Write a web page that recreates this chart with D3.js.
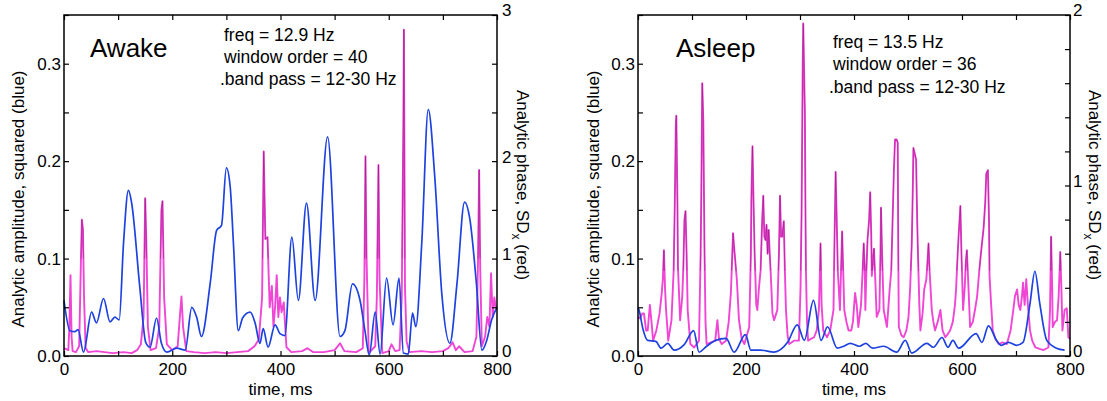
<!DOCTYPE html>
<html>
<head>
<meta charset="utf-8">
<script src="https://cdnjs.cloudflare.com/ajax/libs/d3/7.8.5/d3.min.js"></script>
<style>
body { margin: 0; background: #fff; }
svg text { font-family: "Liberation Sans", Arial, Helvetica, sans-serif; fill: #000; }
</style>
</head>
<body>
<div id="chart"></div>
<script>
var width = 1107,
    height = 401;

// axis ticks and labels
var timeTicks = [0, 100, 200, 300, 400, 500, 600, 700, 800];
var timeLabels = ["0", "", "200", "", "400", "", "600", "", "800"];
var ampTicks = [0, 0.05, 0.1, 0.15, 0.2, 0.25, 0.3, 0.35];
var ampLabels = ["0.0", "", "0.1", "", "0.2", "", "0.3", ""];
var awakePhaseTicks = [0, 0.5, 1, 1.5, 2, 2.5, 3, 3.5];
var awakePhaseLabels = ["0", "", "1", "", "2", "", "", "3"];
var asleepPhaseTicks = [0, 0.2, 0.4, 0.6, 0.8, 1, 1.2, 1.4, 1.6, 1.8, 2];
var asleepPhaseLabels = ["0", "", "", "", "", "1", "", "", "", "", "2"];

// awake: analytic amplitude squared (blue), [ms, value]
var awakeAmp = [[0,0.057],[11,0.026],[20,0.025],[26,0.027],[36,0.004],[51,0.045],[60,0.034],[73,0.059],[85,0.035],[94,0.040],[102,0.037],[110,0.116],[119,0.170],[125,0.157],[140,0.071],[151,0.014],[159,0.009],[171,0.039],[180,0.013],[190,0.004],[208,0.008],[224,0.006],[236,0.050],[245,0.040],[254,0.020],[270,0.074],[282,0.129],[291,0.134],[300,0.193],[307,0.174],[313,0.116],[322,0.026],[330,0.039],[344,0.045],[353,0.034],[362,0.013],[368,0.028],[377,0.009],[390,0.032],[399,0.023],[408,0.021],[421,0.122],[433,0.057],[448,0.157],[464,0.057],[487,0.225],[510,0.020],[519,0.026],[533,0.074],[547,0.057],[556,0.026],[564,0.001],[575,0.045],[584,0.002],[596,0.080],[608,0.032],[619,0.080],[627,0.003],[636,0.002],[644,0.044],[650,0.030],[661,0.116],[673,0.253],[685,0.184],[698,0.064],[713,0.013],[726,0.074],[740,0.158],[750,0.140],[762,0.074],[772,0.006],[781,0.016],[790,0.037],[800,0.050]];

// awake: analytic phase SDx (red), [ms, value]
var awakePhase = [[0,0.08],[8,0.06],[10,0.3],[12,0.83],[14,0.2],[16,0.05],[22,0.04],[28,0.1],[31,0.9],[33,1.40],[35,1.3],[37,0.6],[40,0.08],[45,0.04],[60,0.05],[75,0.04],[90,0.03],[110,0.04],[125,0.03],[135,0.06],[142,0.12],[147,0.4],[150,1.62],[152,1.2],[155,0.3],[160,0.06],[170,0.08],[176,0.3],[180,1.5],[182,1.59],[185,0.6],[190,0.12],[200,0.06],[210,0.1],[214,0.4],[217,0.61],[220,0.3],[226,0.05],[240,0.04],[260,0.03],[280,0.04],[300,0.03],[320,0.04],[340,0.05],[352,0.1],[360,0.17],[366,0.6],[369,2.10],[372,1.2],[376,1.22],[380,0.5],[384,0.72],[387,0.3],[390,0.5],[393,0.83],[396,0.4],[399,0.6],[402,0.45],[406,0.55],[411,0.09],[420,0.04],[440,0.05],[450,0.08],[460,0.04],[480,0.04],[500,0.06],[510,0.13],[518,0.05],[540,0.04],[552,0.08],[555,0.8],[557,2.05],[559,1.0],[563,0.03],[575,0.1],[578,0.6],[581,1.96],[583,0.8],[588,0.03],[600,0.05],[605,0.12],[612,0.05],[620,0.06],[624,0.6],[627,2.4],[628,3.35],[630,0.7],[633,0.15],[638,0.04],[660,0.05],[680,0.04],[700,0.05],[710,0.08],[718,0.14],[724,0.06],[730,0.1],[740,0.04],[755,0.05],[762,0.2],[765,1.0],[767,1.91],[769,0.9],[772,0.1],[778,0.2],[782,0.4],[786,0.3],[789,0.85],[792,0.4],[795,0.6],[798,0.5],[800,0.5]];

// asleep: analytic amplitude squared (blue)
var asleepAmp = [[0,0.050],[2,0.047],[9,0.028],[18,0.016],[33,0.015],[43,0.008],[55,0.013],[67,0.006],[86,0.012],[103,0.026],[113,0.004],[127,0.010],[144,0.016],[163,0.018],[178,0.004],[199,0.022],[209,0.006],[227,0.006],[252,0.004],[277,0.014],[295,0.032],[308,0.016],[325,0.057],[339,0.016],[351,0.030],[369,0.008],[381,0.010],[393,0.013],[410,0.010],[422,0.013],[434,0.008],[455,0.010],[479,0.004],[495,0.016],[507,0.003],[535,0.013],[547,0.009],[563,0.019],[574,0.009],[583,0.016],[594,0.008],[626,0.023],[637,0.014],[649,0.031],[664,0.016],[673,0.011],[686,0.014],[701,0.011],[713,0.014],[726,0.054],[735,0.087],[744,0.054],[757,0.016],[775,0.008],[790,0.006]];

// asleep: analytic phase SDx (red)
var asleepPhase = [[0,0.23],[4,0.22],[8,0.25],[11,0.25],[15,0.15],[18,0.15],[22,0.3],[25,0.2],[28,0.09],[34,0.15],[40,0.25],[44,0.37],[46,0.45],[48,0.62],[50,0.4],[52,0.27],[56,0.09],[62,0.21],[66,0.5],[68,0.86],[70,1.35],[71,1.41],[73,0.9],[74,0.52],[78,0.21],[82,0.35],[84,0.52],[86,0.8],[88,0.85],[90,0.6],[92,0.27],[97,0.07],[104,0.05],[113,0.09],[116,0.6],[117,0.88],[119,1.60],[121,1.37],[123,0.66],[125,0.2],[127,0.07],[135,0.08],[143,0.09],[147,0.21],[150,0.1],[155,0.07],[163,0.09],[168,0.2],[172,0.37],[176,0.72],[179,0.6],[183,0.45],[187,0.21],[192,0.1],[197,0.07],[206,0.17],[209,0.6],[210,0.93],[212,1.23],[214,0.9],[216,0.6],[219,0.3],[221,0.27],[224,0.4],[227,0.5],[230,0.8],[232,0.94],[234,0.7],[236,0.68],[238,0.77],[240,0.6],[242,0.74],[244,0.6],[246,0.47],[249,0.25],[252,0.21],[256,0.25],[258,0.27],[261,0.6],[263,0.94],[265,0.7],[267,0.7],[270,0.79],[272,0.5],[274,0.27],[277,0.12],[280,0.07],[289,0.09],[298,0.09],[301,0.4],[303,0.86],[305,1.7],[306,1.95],[308,1.6],[309,1.44],[310,0.9],[311,0.5],[313,0.2],[315,0.09],[320,0.1],[326,0.11],[331,0.15],[335,0.27],[337,0.5],[338,0.66],[340,0.3],[343,0.15],[350,0.11],[356,0.15],[362,0.27],[364,0.7],[366,1.08],[368,0.8],[370,0.5],[374,0.27],[376,0.5],[378,0.73],[380,0.5],[382,0.27],[386,0.2],[390,0.15],[395,0.15],[398,0.2],[402,0.37],[405,0.3],[408,0.17],[413,0.3],[416,0.5],[418,0.66],[420,0.5],[421,0.27],[423,0.5],[425,0.68],[428,0.8],[430,0.96],[432,0.7],[433,0.47],[435,0.55],[437,0.63],[440,0.4],[442,0.23],[447,0.27],[449,0.6],[450,0.87],[452,0.6],[455,0.27],[461,0.17],[464,0.3],[466,0.39],[469,0.5],[472,0.86],[474,1.1],[476,1.27],[479,1.27],[481,1.25],[482,0.6],[483,0.17],[488,0.12],[492,0.11],[497,0.15],[501,0.23],[504,0.4],[507,0.66],[509,1.0],[510,1.22],[513,1.18],[515,1.15],[517,0.8],[518,0.66],[521,0.3],[523,0.15],[527,0.25],[530,0.39],[534,0.45],[536,0.55],[538,0.66],[540,0.5],[544,0.27],[547,0.2],[550,0.15],[555,0.2],[560,0.27],[564,0.15],[569,0.11],[574,0.13],[578,0.15],[583,0.2],[587,0.3],[589,0.39],[592,0.6],[594,0.72],[597,0.88],[599,0.6],[602,0.27],[605,0.4],[607,0.55],[609,0.62],[612,0.4],[615,0.17],[620,0.2],[624,0.27],[628,0.35],[632,0.5],[635,0.6],[637,0.66],[640,0.75],[643,0.9],[645,1.07],[648,1.09],[650,0.8],[651,0.47],[654,0.3],[657,0.15],[662,0.1],[668,0.07],[675,0.08],[683,0.07],[690,0.15],[695,0.27],[698,0.35],[702,0.39],[705,0.3],[708,0.27],[711,0.35],[713,0.43],[716,0.3],[719,0.45],[722,0.3],[726,0.15],[730,0.09],[736,0.05],[745,0.04],[751,0.035],[760,0.05],[763,0.27],[765,0.70],[767,0.4],[768,0.17],[772,0.2],[776,0.21],[779,0.35],[782,0.61],[784,0.4],[786,0.15],[790,0.27],[794,0.28],[797,0.11],[800,0.1]];

var svg = d3.select("#chart")
    .append("svg")
    .attr("width", width)
    .attr("height", height);

var panels = [
    {id: "awake", x0: 64, x1: 497, title: "Awake", titleX: 90,
     info: ["freq = 12.9 Hz", "window order = 40", ".band pass = 12-30 Hz"],
     infoX: [224, 224, 220], infoY: [41, 63, 85],
     amp: awakeAmp, phase: awakePhase, phaseMax: 3.5, coreFrom: 1.0,
     phaseTicks: awakePhaseTicks, phaseLabels: awakePhaseLabels, phasePad: 5,
     leftLabelX: 24, rightLabelX: 517},
    {id: "asleep", x0: 638, x1: 1070, title: "Asleep", titleX: 676,
     info: ["freq = 13.5 Hz", "window order = 36", ".band pass = 12-30 Hz"],
     infoX: [833, 833, 829], infoY: [48, 70, 93],
     amp: asleepAmp, phase: asleepPhase, phaseMax: 2, coreFrom: 0.5,
     phaseTicks: asleepPhaseTicks, phaseLabels: asleepPhaseLabels, phasePad: 3,
     leftLabelX: 599, rightLabelX: 1089}
];

var plotTop = 15, plotBottom = 356;
var defs = svg.append("defs");

function drawPanel(p) {
    var x = d3.scaleLinear().domain([0, 800]).range([p.x0, p.x1]);
    var yAmp = d3.scaleLinear().domain([0, 0.35]).range([plotBottom, plotTop]);
    var yPhase = d3.scaleLinear().domain([0, p.phaseMax]).range([plotBottom, plotTop]);

    var g = svg.append("g");

    // clip for the dark cores of the tall phase spikes
    defs.append("clipPath").attr("id", "core-" + p.id)
        .append("rect")
        .attr("x", p.x0).attr("y", plotTop - 5)
        .attr("width", p.x1 - p.x0).attr("height", yPhase(p.coreFrom) - plotTop + 5);

    // lines: phase first, amplitude on top
    var phaseLine = d3.line().x(d => x(d[0])).y(d => yPhase(d[1]));
    var ampLine = d3.line().x(d => x(d[0])).y(d => yAmp(d[1])).curve(d3.curveMonotoneX);

    g.append("path")
        .datum(p.phase)
        .attr("d", phaseLine)
        .attr("fill", "none")
        .attr("stroke", "#f046d6")
        .attr("stroke-width", 1.9)
        .attr("stroke-linejoin", "round");

    g.append("path")
        .datum(p.phase)
        .attr("d", phaseLine)
        .attr("clip-path", "url(#core-" + p.id + ")")
        .attr("fill", "none")
        .attr("stroke", "#6a0c5c")
        .attr("stroke-opacity", 0.75)
        .attr("stroke-width", 0.5);

    g.append("path")
        .datum(p.amp)
        .attr("d", ampLine)
        .attr("fill", "none")
        .attr("stroke", "#1d42e0")
        .attr("stroke-width", 1.7);

    // axes, ticks point inward
    var xAxis = d3.axisBottom(x).tickValues(timeTicks)
        .tickFormat((d, i) => timeLabels[i]).tickSize(-5).tickSizeOuter(0).tickPadding(7);
    var xTop = d3.axisTop(x).tickValues(timeTicks)
        .tickFormat("").tickSize(-5).tickSizeOuter(0);
    var yAxis = d3.axisLeft(yAmp).tickValues(ampTicks)
        .tickFormat((d, i) => ampLabels[i]).tickSize(-5).tickSizeOuter(0).tickPadding(3);
    var yRight = d3.axisRight(yPhase).tickValues(p.phaseTicks)
        .tickFormat((d, i) => p.phaseLabels[i]).tickSize(-5).tickSizeOuter(0).tickPadding(p.phasePad);

    var axes = [
        g.append("g").attr("transform", "translate(0," + plotBottom + ")").call(xAxis),
        g.append("g").attr("transform", "translate(0," + plotTop + ")").call(xTop),
        g.append("g").attr("transform", "translate(" + p.x0 + ",0)").call(yAxis),
        g.append("g").attr("transform", "translate(" + p.x1 + ",0)").call(yRight)
    ];
    axes.forEach(a => {
        a.select(".domain").remove();
        a.selectAll("line").attr("stroke", "#000").attr("stroke-width", 1.2);
        a.selectAll("text").style("font-size", "17px")
            .style("font-family", '"Liberation Sans", Arial, sans-serif');
    });
    // right labels sit a touch above their ticks
    axes[3].selectAll("text").attr("dy", "0.05em");

    // frame
    g.append("rect")
        .attr("x", p.x0).attr("y", plotTop)
        .attr("width", p.x1 - p.x0).attr("height", plotBottom - plotTop)
        .attr("fill", "none").attr("stroke", "#000").attr("stroke-width", 1.5);

    // title and parameters
    g.append("text").attr("x", p.titleX).attr("y", 57)
        .style("font-size", "26px").text(p.title);
    p.info.forEach((t, i) => {
        g.append("text").attr("x", p.infoX[i]).attr("y", p.infoY[i])
            .style("font-size", "17.5px").text(t);
    });

    // axis titles
    g.append("text")
        .attr("transform", "translate(" + p.leftLabelX + ",199) rotate(-90)")
        .attr("text-anchor", "middle")
        .style("font-size", "17px")
        .text("Analytic amplitude, squared (blue)");

    var rl = g.append("text")
        .attr("transform", "translate(" + p.rightLabelX + ",185) rotate(90)")
        .attr("text-anchor", "middle")
        .style("font-size", "17px");
    rl.append("tspan").text("Analytic phase, SD");
    rl.append("tspan").attr("dy", 5).style("font-size", "12px").text("x");
    rl.append("tspan").attr("dy", -5).text(" (red)");

    g.append("text")
        .attr("x", (p.x0 + p.x1) / 2).attr("y", 395)
        .attr("text-anchor", "middle")
        .style("font-size", "17px")
        .text("time, ms");
}

panels.forEach(drawPanel);
</script>
</body>
</html>
